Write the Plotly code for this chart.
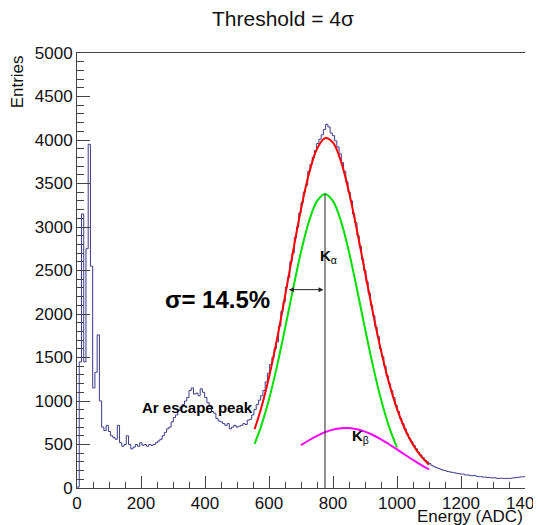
import numpy as np
import plotly.graph_objects as go

# ---------------- data ----------------
BIN_WIDTH = 7          # ADC per bin, 200 bins over 0-1400
counts = [
    10, 1450, 3150, 1450, 2750, 3950, 2550, 1150, 1330, 1760,
    1000, 700, 660, 720, 650, 600, 580, 560, 720, 520,
    480, 500, 600, 500, 450, 470, 500, 480, 520, 490,
    500, 480, 500, 490, 500, 520, 540, 560, 600, 640,
    680, 700, 760, 810, 840, 890, 930, 960, 1000, 1040,
    1120, 1150, 1080, 1090, 1060, 1140, 1100, 1040, 980, 940,
    880, 860, 800, 770, 760, 740, 720, 740, 680, 700,
    720, 700, 710, 720, 740, 730, 780, 790, 840, 900,
    960, 1010, 1060, 1120, 1220, 1320, 1420, 1500, 1600, 1680,
    1860, 2030, 2140, 2310, 2420, 2600, 2700, 2880, 3000, 3160,
    3280, 3400, 3480, 3640, 3720, 3800, 3880, 3960, 4010, 4060,
    4120, 4180, 4150, 4080, 4050, 3990, 3920, 3840, 3740, 3640,
    3520, 3400, 3300, 3150, 3050, 2900, 2780, 2630, 2500, 2370,
    2240, 2100, 1980, 1850, 1740, 1600, 1510, 1400, 1290, 1200,
    1120, 1040, 950, 880, 800, 740, 680, 620, 570, 530,
    490, 450, 410, 380, 350, 320, 300, 280, 260, 245,
    235, 225, 215, 205, 200, 190, 185, 180, 175, 170,
    165, 160, 160, 150, 150, 145, 140, 145, 135, 130,
    130, 125, 125, 120, 120, 115, 118, 112, 110, 112,
    110, 108, 112, 110, 115, 118, 120, 125, 128, 130,
]

# K-alpha component (green)
ka_x = [555, 575, 600, 625, 650, 675, 700, 725, 750, 775, 800, 825, 850, 875, 900, 925, 950, 975, 1000]
ka_y = [508, 706, 1019, 1401, 1833, 2284, 2712, 3065, 3298, 3380, 3298, 3065, 2712, 2284, 1833, 1401, 1019, 706, 466]

# K-beta component (magenta)
kb_x = [700, 725, 750, 775, 800, 825, 850, 875, 900, 925, 950, 975, 1000, 1025, 1050, 1075, 1100]
kb_y = [492, 549, 600, 641, 671, 687, 689, 675, 648, 609, 560, 503, 443, 382, 322, 265, 214]

# total fit (red)
tot_x = [555, 575, 600, 625, 650, 675, 700, 725, 750, 775, 800, 825, 850, 875, 900, 925, 950, 975, 1000, 1025, 1050, 1075, 1100]
tot_y = [677, 911, 1274, 1711, 2202, 2715, 3204, 3614, 3898, 4021, 3969, 3752, 3401, 2959, 2481, 2010, 1579, 1209, 909, 675, 497, 365, 268]

KA_MEAN = 775
KA_SIGMA = 113
ARROW_Y = 2280

x_ticks = [0, 200, 400, 600, 800, 1000, 1200, 1400]
y_ticks = [0, 500, 1000, 1500, 2000, 2500, 3000, 3500, 4000, 4500, 5000]

# ---------------- figure ----------------
edges = np.arange(len(counts) + 1) * BIN_WIDTH
hist_x = list(edges)
hist_y = list(counts) + [counts[-1]]

FONT = "Liberation Sans, Arial, sans-serif"
fig = go.Figure()

fig.add_trace(go.Scatter(x=hist_x, y=hist_y, mode="lines", line_shape="hv",
                         line=dict(color="#3c3c8c", width=1), hoverinfo="skip"))
fig.add_trace(go.Scatter(x=ka_x, y=ka_y, mode="lines", line_shape="spline",
                         line=dict(color="#00e000", width=2)))
fig.add_trace(go.Scatter(x=kb_x, y=kb_y, mode="lines", line_shape="spline",
                         line=dict(color="#ff00ff", width=2)))
fig.add_trace(go.Scatter(x=tot_x, y=tot_y, mode="lines", line_shape="spline",
                         line=dict(color="#ff0000", width=2)))
# vertical line at K-alpha mean
fig.add_trace(go.Scatter(x=[KA_MEAN, KA_MEAN], y=[0, max(ka_y)], mode="lines",
                         line=dict(color="#222222", width=1)))

annotations = [
    dict(text="Threshold = 4σ", x=0.46, y=1.08, xref="paper", yref="paper",
         xanchor="center", yanchor="middle",
         showarrow=False, font=dict(family=FONT, size=21, color="#111")),
    dict(text="Entries", x=-0.132, y=1.0, xref="paper", yref="paper",
         textangle=-90, xanchor="center", yanchor="top", showarrow=False,
         font=dict(family=FONT, size=17, color="#111")),
    dict(text="Energy (ADC)", x=1.0, y=-0.038, xref="paper", yref="paper",
         xanchor="right", yanchor="top", showarrow=False,
         font=dict(family=FONT, size=17, color="#111")),
    dict(text="<b>σ= 14.5%</b>", x=440, y=2170, xref="x", yref="y",
         showarrow=False, font=dict(family=FONT, size=24, color="#000")),
    dict(text="<b>K</b><sub>α</sub>", x=KA_MEAN + 10, y=2660, xref="x", yref="y",
         showarrow=False, font=dict(family=FONT, size=15, color="#000")),
    dict(text="<b>K</b><sub>β</sub>", x=885, y=590, xref="x", yref="y",
         showarrow=False, font=dict(family=FONT, size=15, color="#000")),
    dict(text="<b>Ar escape peak</b>", x=378, y=924, xref="x", yref="y",
         showarrow=False, font=dict(family=FONT, size=15, color="#000")),
    # double-headed sigma arrow
    dict(x=KA_MEAN - KA_SIGMA, y=ARROW_Y, ax=KA_MEAN, ay=ARROW_Y,
         xref="x", yref="y", axref="x", ayref="y", text="",
         showarrow=True, arrowhead=2, startarrowhead=2, arrowside="end+start",
         arrowsize=1, arrowwidth=1, arrowcolor="#222222"),
]

# the page body adds an 8 px offset, so the figure is sized/placed to compensate
fig.update_layout(
    width=541, height=517,
    margin=dict(l=69, r=24, t=45, b=37, autoexpand=False),
    paper_bgcolor="white", plot_bgcolor="white",
    showlegend=False,
    annotations=annotations,
    font=dict(family=FONT, color="#111"),
)
fig.update_xaxes(range=[0, 1400], tickvals=x_ticks, ticktext=[str(v) for v in x_ticks],
                 ticks="inside", ticklen=12, tickcolor="#444", showline=True,
                 linecolor="#444", linewidth=1, mirror=True, showgrid=False, zeroline=False,
                 ticklabeloverflow="allow", automargin=False,
                 tickfont=dict(size=17, family=FONT, color="#111"),
                 minor=dict(ticks="inside", ticklen=6, dtick=50, tickcolor="#444"))
fig.update_yaxes(range=[0, 5000], tickvals=y_ticks, ticktext=[str(v) for v in y_ticks],
                 ticks="inside", ticklen=13, tickcolor="#444", showline=True,
                 linecolor="#444", linewidth=1, showgrid=False, zeroline=False,
                 ticklabeloverflow="allow", automargin=False,
                 tickfont=dict(size=17, family=FONT, color="#111"),
                 minor=dict(ticks="inside", ticklen=7, dtick=100, tickcolor="#444"))

fig.write_html("out.html")
